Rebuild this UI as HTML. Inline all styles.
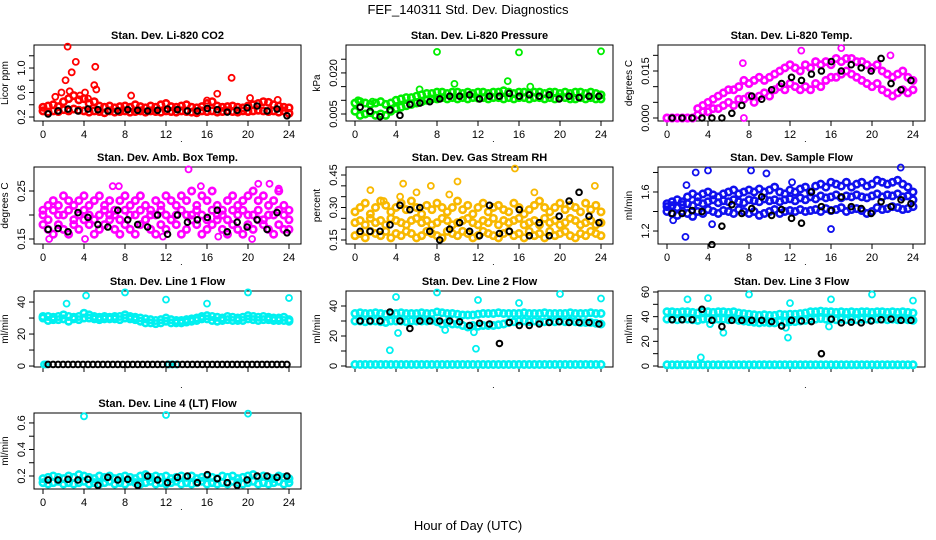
<!DOCTYPE html>
<html><head><meta charset="utf-8"><title>FEF_140311 Std. Dev. Diagnostics</title>
<style>
html,body{margin:0;padding:0;background:#fff;}
svg{display:block;font-family:"Liberation Sans",Arial,sans-serif;}
</style></head>
<body>
<svg id="chart" width="936" height="540" viewBox="0 0 936 540" xmlns="http://www.w3.org/2000/svg">
<text x="468" y="14" text-anchor="middle" font-size="13">FEF_140311  Std. Dev. Diagnostics</text>
<text x="468" y="530" text-anchor="middle" font-size="13">Hour of Day (UTC)</text>
</svg>
<script>
// ---- data ----
const xTicks = [0,4,8,12,16,20,24];

const co2Hi = [0.36,0.38,0.4,0.37,0.45,0.5,0.55,0.48,0.5,0.42,0.45,0.38,0.36,0.38,0.35,0.37,0.38,0.36,0.4,0.37,0.35,0.38,0.36,0.4,0.42,0.37,0.36,0.38,0.4,0.36,0.35,0.37,0.42,0.45,0.38,0.36,0.37,0.38,0.36,0.35,0.38,0.4,0.42,0.45,0.44,0.4,0.38,0.36,0.35];
const co2Lo = [0.3,0.28,0.3,0.29,0.32,0.3,0.33,0.31,0.3,0.28,0.3,0.29,0.27,0.3,0.28,0.29,0.3,0.28,0.29,0.3,0.28,0.3,0.29,0.28,0.3,0.29,0.28,0.3,0.29,0.28,0.27,0.3,0.29,0.3,0.28,0.29,0.3,0.29,0.28,0.3,0.29,0.3,0.31,0.3,0.29,0.3,0.28,0.3,0.26];
const co2OutX = [2.4,3.2,2.8,2.2,5.1,5.0,5.2,18.4,1.2,1.8,4.1,3.6,8.6,17.0,20.2,22.9,16.0,2.6,4.4];
const co2OutY = [1.35,1.1,0.93,0.8,1.02,0.72,0.65,0.84,0.53,0.6,0.6,0.55,0.55,0.58,0.51,0.48,0.47,0.62,0.5];
const co2Black = [0.25,0.3,0.33,0.3,0.33,0.32,0.3,0.3,0.32,0.31,0.3,0.31,0.33,0.32,0.3,0.3,0.34,0.32,0.28,0.31,0.35,0.38,0.3,0.33,0.22];

const presHi = [0.009,0.0095,0.009,0.0085,0.009,0.0095,0.0085,0.009,0.01,0.0105,0.011,0.011,0.0115,0.012,0.0125,0.0125,0.013,0.013,0.0125,0.013,0.013,0.0125,0.013,0.0125,0.013,0.013,0.0125,0.013,0.013,0.0135,0.013,0.0125,0.013,0.013,0.0125,0.013,0.013,0.0125,0.013,0.013,0.0125,0.013,0.0125,0.013,0.013,0.0125,0.013,0.0125,0.012];
const presLo = [0.006,0.0045,0.005,0.0055,0.0045,0.005,0.0045,0.006,0.007,0.0075,0.008,0.0085,0.009,0.0095,0.01,0.0105,0.0105,0.011,0.0105,0.011,0.0105,0.011,0.0105,0.011,0.0108,0.011,0.0105,0.011,0.011,0.0105,0.011,0.0105,0.011,0.011,0.0105,0.011,0.011,0.0105,0.011,0.0105,0.011,0.011,0.0105,0.0105,0.011,0.0105,0.011,0.0105,0.0105];
const presOutX = [8,16,24,9.7,14.9,0.3,6.3,17.1,1.7];
const presOutY = [0.0277,0.0275,0.0279,0.016,0.017,0.01,0.014,0.015,0.0095];
const presBlack = [0.0075,0.006,0.004,0.0065,0.0045,0.0085,0.009,0.0095,0.0105,0.0115,0.0115,0.012,0.0105,0.0115,0.0115,0.0125,0.0115,0.012,0.0115,0.012,0.0105,0.0115,0.011,0.0115,0.0115];

const tempHi = [0,0,0,0,0,0,0.003,0.004,0.005,0.006,0.007,0.008,0.009,0.009,0.01,0.012,0.011,0.012,0.013,0.012,0.013,0.014,0.015,0.016,0.017,0.016,0.015,0.017,0.016,0.018,0.017,0.018,0.017,0.019,0.018,0.019,0.019,0.018,0.018,0.017,0.016,0.017,0.015,0.014,0.013,0.014,0.015,0.013,0.012];
const tempLo = [0,0,0,0,0,0,0.001,0.002,0.002,0.003,0.003,0.004,0.005,0.004,0.006,0.006,0.007,0.005,0.007,0.008,0.007,0.009,0.01,0.009,0.011,0.01,0.009,0.01,0.009,0.011,0.01,0.012,0.013,0.013,0.014,0.015,0.014,0.013,0.012,0.011,0.01,0.011,0.009,0.008,0.007,0.008,0.009,0.008,0.009];
const tempOutX = [7.4,13.1,17.0,21.8,7.5];
const tempOutY = [0.0175,0.0215,0.0223,0.0200,0];
const tempBlack = [0,0,0,0,0,0,0.0015,0.004,0.007,0.006,0.009,0.011,0.013,0.012,0.014,0.015,0.018,0.015,0.017,0.016,0.015,0.019,0.011,0.009,0.012];

const ambHi = [0.21,0.22,0.23,0.22,0.24,0.23,0.22,0.23,0.24,0.22,0.23,0.24,0.22,0.23,0.21,0.23,0.24,0.22,0.23,0.24,0.22,0.21,0.23,0.22,0.24,0.23,0.22,0.24,0.23,0.25,0.22,0.24,0.23,0.25,0.22,0.21,0.23,0.24,0.22,0.23,0.24,0.25,0.23,0.24,0.22,0.23,0.25,0.22,0.21];
const ambMid = [0.2,0.19,0.21,0.2,0.2,0.21,0.19,0.2,0.21,0.2,0.19,0.2,0.21,0.2,0.2,0.19,0.21,0.2,0.2,0.21,0.19,0.2,0.2,0.21,0.2,0.19,0.2,0.21,0.2,0.2,0.21,0.2,0.19,0.21,0.2,0.2,0.19,0.21,0.2,0.21,0.2,0.2,0.21,0.19,0.2,0.2,0.21,0.2,0.19];
const ambLo = [0.18,0.17,0.16,0.18,0.17,0.16,0.18,0.17,0.19,0.18,0.16,0.17,0.18,0.19,0.17,0.16,0.18,0.17,0.16,0.18,0.19,0.17,0.16,0.18,0.17,0.19,0.18,0.16,0.17,0.19,0.18,0.16,0.17,0.18,0.19,0.17,0.16,0.18,0.17,0.16,0.18,0.17,0.19,0.18,0.17,0.16,0.18,0.17,0.17];
const ambOutX = [14.2,15.4,21.0,22.1,23.0,6.8,7.4,0.6,4.1,11.7,17.1,20.4];
const ambOutY = [0.295,0.26,0.265,0.265,0.255,0.26,0.26,0.15,0.15,0.155,0.155,0.15];
const ambBlack = [0.17,0.172,0.165,0.205,0.195,0.18,0.175,0.21,0.19,0.18,0.175,0.2,0.16,0.2,0.185,0.19,0.195,0.21,0.165,0.185,0.175,0.19,0.17,0.205,0.163];

const rhHi = [0.28,0.3,0.32,0.27,0.3,0.33,0.31,0.28,0.3,0.32,0.29,0.33,0.3,0.27,0.31,0.29,0.32,0.3,0.28,0.3,0.33,0.29,0.31,0.27,0.3,0.32,0.28,0.3,0.31,0.29,0.28,0.32,0.3,0.27,0.29,0.31,0.33,0.3,0.28,0.3,0.32,0.29,0.31,0.3,0.28,0.32,0.29,0.31,0.28];
const rhMid = [0.23,0.24,0.22,0.25,0.23,0.24,0.22,0.25,0.24,0.23,0.22,0.24,0.25,0.23,0.24,0.22,0.23,0.25,0.24,0.22,0.23,0.24,0.25,0.23,0.22,0.24,0.23,0.25,0.22,0.24,0.23,0.24,0.25,0.22,0.23,0.24,0.22,0.25,0.23,0.24,0.22,0.23,0.25,0.24,0.22,0.23,0.24,0.22,0.23];
const rhLo = [0.17,0.18,0.16,0.19,0.18,0.17,0.19,0.16,0.18,0.17,0.19,0.18,0.16,0.17,0.19,0.18,0.17,0.16,0.19,0.18,0.17,0.19,0.18,0.16,0.17,0.19,0.18,0.17,0.16,0.18,0.19,0.17,0.18,0.16,0.19,0.17,0.18,0.16,0.19,0.17,0.18,0.19,0.17,0.16,0.18,0.17,0.19,0.18,0.17];
const rhOutX = [1.5,4.7,7.4,10.0,15.6,23.4,2.8,6.0,9.2,4.4,17.5];
const rhOutY = [0.38,0.41,0.4,0.42,0.48,0.4,0.33,0.37,0.36,0.35,0.37];
const rhBlack = [0.19,0.19,0.19,0.22,0.31,0.29,0.3,0.19,0.15,0.2,0.23,0.19,0.17,0.31,0.18,0.19,0.29,0.17,0.23,0.17,0.26,0.33,0.37,0.26,0.23];

const flowHi = [1.48,1.5,1.52,1.5,1.55,1.58,1.55,1.58,1.6,1.57,1.55,1.58,1.6,1.62,1.58,1.6,1.62,1.6,1.63,1.6,1.62,1.65,1.6,1.58,1.62,1.6,1.63,1.65,1.6,1.66,1.68,1.65,1.7,1.68,1.66,1.7,1.65,1.68,1.7,1.66,1.68,1.72,1.7,1.68,1.7,1.72,1.68,1.65,1.6];
const flowMid = [1.45,1.46,1.44,1.47,1.48,1.46,1.5,1.48,1.5,1.52,1.49,1.51,1.5,1.52,1.5,1.49,1.52,1.51,1.5,1.53,1.51,1.52,1.5,1.52,1.53,1.51,1.54,1.52,1.55,1.53,1.56,1.54,1.55,1.57,1.54,1.56,1.55,1.57,1.55,1.54,1.56,1.58,1.55,1.57,1.56,1.58,1.55,1.56,1.52];
const flowLo = [1.4,1.38,1.36,1.4,1.38,1.35,1.4,1.38,1.42,1.4,1.38,1.41,1.4,1.38,1.42,1.4,1.38,1.4,1.36,1.38,1.4,1.42,1.38,1.4,1.41,1.4,1.42,1.4,1.41,1.42,1.4,1.43,1.41,1.42,1.44,1.4,1.42,1.43,1.41,1.38,1.4,1.44,1.42,1.43,1.45,1.44,1.42,1.43,1.45];
const flowOutX = [1.8,2.8,4.0,8.2,9.7,16.0,12.2,22.8,0.6,1.9,4.4];
const flowOutY = [1.14,1.8,1.82,1.82,1.79,1.22,1.7,1.85,1.31,1.67,1.27];
const flowBlack = [1.38,1.38,1.41,1.4,1.06,1.25,1.47,1.38,1.43,1.55,1.36,1.42,1.33,1.28,1.6,1.45,1.41,1.55,1.45,1.43,1.38,1.5,1.45,1.52,1.48];

const l1Hi = [31,31,30.5,31,32,31,30.5,31,33,32,31,30.5,31,30.5,31,31,32,31,30.5,30,29.5,29,28.5,29,30,29,28.5,28.5,29,29.5,30,31,31.5,31,30.5,30,31,30.5,30,30.5,31.5,31,30.5,31,30.5,30,30,30.5,29];
const l1Lo = [30,28.5,29,29,29.5,28,29.5,29,30,30,29.5,29,29.5,29.5,29.5,29,30,29.5,29,28,27,27,26.5,27,28,27,27,27,27.5,28,28.5,29.5,29.5,28.5,28,28.5,29,28.5,28.5,28.5,29.5,29,28.5,29,29,28.5,28.5,28.5,28];
const l1OutX = [2.3,4.2,8,12,16,20,24,0.1,0.3,12.3,12.6,13.0];
const l1OutY = [39,44,46,41.5,39,46,42.5,1,1,1,1,1];
const l1Black = [1,1,1,1,1,1,1,1,1,1,1,1,1,1,1,1,1,1,1,1,1,1,1,1,1,1,1,1,1,1,1,1,1,1,1,1,1,1,1,1,1,1,1,1,1,1,1,1,1];

const l2Hi = [35,35.5,35,35,35.5,35,34.5,35,35,35.5,35,35,35,35.5,35,35,36,35.5,35,35,34.5,34,34,34,34.5,35,35,35,35.5,35,35,35,35,35.5,35,35,35,35.5,35,35,35,35,35.5,35,35,35,35.5,35,35];
const l2Mid = [30,30,29.5,30,30,29.5,29,30,30,30,29.5,30,30,30,30,30.5,29.5,28,29,28,28,27,26,27,26.5,27,27,27,27.5,28,29,29.5,30,30,29.5,30,29.5,29.5,30,29.5,30,29.5,30,29.5,29,29,29,28.5,28];
const l2Zero = [1,1,1,1,1,1,1,1,1,1,1,1,1,1,1,1,1,1,1,1,1,1,1,1,1,1,1,1,1,1,1,1,1,1,1,1,1,1,1,1,1,1,1,1,1,1,1,1,1];
const l2OutX = [4,8,12,16,20,24,3.4,11.8,11.6,4.2,8.8];
const l2OutY = [46,49,44,42,48,45,10.5,11.5,22.5,22,24];
const l2Black = [30,30,30,36,30,25,30,30,30,30,29.5,27,28.5,28,15,29,27,27,28,29,29.5,29,29,29,28];

const l3Hi = [44,44,43.5,44,44,43.5,43,44,44,43.5,44,44,43.5,44,43,42.5,42,41.5,41,41.5,41,41,42,41.5,42,42,42.5,43,44,44,44.5,44,44,43.5,44,43.5,44,43.5,44,44,43.5,44,44,43.5,44,43.5,44,43.5,43];
const l3Mid = [38,38,37.5,38,38,37.5,37,38,38,37.5,38,38,37.5,38,37,36.5,36,35.5,35,35.5,35,35,36,35.5,36,36,36.5,37,38,38,38.5,38,38,37.5,38,37.5,38,37.5,38,38,37.5,38,38,37.5,38,37.5,38,37.5,37];
const l3Zero = [1,1,1,1,1,1,1,1,1,1,1,1,1,1,1,1,1,1,1,1,1,1,1,1,1,1,1,1,1,1,1,1,1,1,1,1,1,1,1,1,1,1,1,1,1,1,1,1,1];
const l3OutX = [2,4,8,12,16,20,24,3.3,11.8,11.6,4.2,15.8,5.5];
const l3OutY = [54,55,58,51,54,58,53,7,23,31,34,32,27];
const l3Black = [37.5,37.5,37.5,46,37,32,37,37,37,37,36,32.5,37,36.5,36,10,38,35,35.5,35,36.5,37.5,38,37,37];

const l4Hi = [0.18,0.19,0.2,0.19,0.18,0.2,0.19,0.21,0.2,0.19,0.18,0.2,0.19,0.2,0.18,0.19,0.2,0.19,0.18,0.2,0.21,0.19,0.2,0.19,0.2,0.18,0.19,0.2,0.19,0.2,0.18,0.19,0.2,0.19,0.18,0.2,0.19,0.2,0.18,0.19,0.2,0.21,0.19,0.2,0.19,0.18,0.2,0.19,0.18];
const l4Lo = [0.15,0.14,0.15,0.16,0.14,0.15,0.14,0.15,0.16,0.14,0.15,0.14,0.15,0.16,0.14,0.15,0.14,0.16,0.15,0.14,0.15,0.16,0.14,0.15,0.14,0.15,0.16,0.14,0.15,0.14,0.15,0.16,0.14,0.15,0.14,0.15,0.14,0.16,0.15,0.14,0.15,0.16,0.14,0.15,0.14,0.15,0.16,0.14,0.15];
const l4OutX = [4,12,20];
const l4OutY = [0.65,0.66,0.67];
const l4Black = [0.17,0.17,0.175,0.17,0.175,0.13,0.19,0.17,0.175,0.13,0.2,0.17,0.15,0.19,0.2,0.15,0.21,0.18,0.15,0.13,0.17,0.2,0.2,0.19,0.2];

// ---- drawing ----
const NS = "http://www.w3.org/2000/svg";
const svg = document.getElementById("chart");
const colX = [0,312,624];
const rowTop = [45,167,291,413];
const rowBot = [121,244,367,489];

function mk(tag, attrs, parent){
  const e = document.createElementNS(NS, tag);
  for (const k in attrs) e.setAttribute(k, attrs[k]);
  (parent||svg).appendChild(e);
  return e;
}

function makePanel(key, col, row, title, ylab, yMin, yMax, yTicks, yLabels, showXLabels){
  const cx = colX[col];
  const left = cx + 34, right = cx + 301, top = rowTop[row], bot = rowBot[row];
  const g = mk("g", {});
  
  
  const xs = h => cx + 43 + h * 10.25;
  const ys = v => bot - (v - yMin) / (yMax - yMin) * (bot - top);
  const frame = mk("rect", {x:left, y:top, width:right-left, height:bot-top, fill:"none", stroke:"#000", "stroke-width":1}, g);
  
  
  const t = mk("text", {x:(left+right)/2, y:top-6, "text-anchor":"middle", "font-size":11, "font-weight":"bold"}, g);
  t.textContent = title;
  
  
  const yl = mk("text", {x:0, y:0, "text-anchor":"middle", "font-size":10, transform:"translate("+(left-26)+","+((top+bot)/2)+") rotate(-90)"}, g);
  yl.textContent = ylab;
  
  
  const xa = mk("g", {}, g);
  
  
  xTicks.forEach(h => {
    mk("line", {x1:xs(h), x2:xs(h), y1:bot, y2:bot+5, stroke:"#000"}, xa);
    if (showXLabels){
      const tl = mk("text", {x:xs(h), y:bot+17, "text-anchor":"middle", "font-size":11}, xa);
      tl.textContent = h;
    }
  });
  const dot = mk("text", {x:xs(13.5), y:bot+21, "text-anchor":"middle", "font-size":9}, xa);
  dot.textContent = ".";
  const ya = mk("g", {}, g);
  
  
  yTicks.forEach(v => {
    mk("line", {x1:left-5, x2:left, y1:ys(v), y2:ys(v), stroke:"#000"}, ya);
  });
  yLabels.forEach(v => {
    const tl = mk("text", {x:0, y:0, "text-anchor":"middle", "font-size":11, transform:"translate("+(left-9)+","+ys(v)+") rotate(-90)"}, ya);
    tl.textContent = v;
  });
  const clipId = "clip-" + key;
  const cp = mk("clipPath", {id:clipId}, g);
  mk("rect", {x:left-4, y:top-4, width:right-left+8, height:bot-top+8}, cp);
  const marks = mk("g", {"clip-path":"url(#"+clipId+")"}, g);
  
  
  return {xs, ys, marks, key};
}

function series(p, vals, color, name, isBlack){
  const sg = mk("g", {}, p.marks);
  
  
  const n = vals.length;
  vals.forEach((v, i) => {
    const h = isBlack ? 0.5 + i * 23.3 / (n - 1) : i * 24 / (n - 1);
    const c = mk("circle", {cx:p.xs(h), cy:p.ys(v), r:isBlack?2.8:3.2, fill:"none", stroke:color, "stroke-width":isBlack?2:2.6}, sg);
    
    
  });
}
function outliers(p, xsArr, ysArr, color){
  const sg = mk("g", {}, p.marks);
  
  
  xsArr.forEach((h, i) => {
    const c = mk("circle", {cx:p.xs(h), cy:p.ys(ysArr[i]), r:3, fill:"none", stroke:color, "stroke-width":1.8}, sg);
    
    
  });
}

const RED="#ff0000", GRN="#00ee00", MAG="#ff00ff", ORG="#f8b800", BLU="#1010ee", CYN="#00f0f0", BLK="#000";

let p;
p = makePanel("co2",0,0,"Stan. Dev. Li-820 CO2","Licor ppm",0.135,1.376,[0.2,0.4,0.6,0.8,1.0,1.2],["0.2","0.6","1.0"],true);
series(p,co2Hi,RED,"co2-upper"); series(p,co2Lo,RED,"co2-lower"); outliers(p,co2OutX,co2OutY,RED); series(p,co2Black,BLK,"co2-hourly",true);

p = makePanel("pressure",1,0,"Stan. Dev. Li-820 Pressure","kPa",0.00244,0.0302,[0.005,0.010,0.015,0.020,0.025],["0.005","0.020"],true);
series(p,presHi,GRN,"pressure-upper"); series(p,presLo,GRN,"pressure-lower"); outliers(p,presOutX,presOutY,GRN); series(p,presBlack,BLK,"pressure-hourly",true);

p = makePanel("temp",2,0,"Stan. Dev. Li-820 Temp.","degrees C",-0.00096,0.0233,[0,0.005,0.010,0.015,0.020],["0.000","0.015"],true);
series(p,tempHi,MAG,"temp-upper"); series(p,tempLo,MAG,"temp-lower"); outliers(p,tempOutX,tempOutY,MAG); series(p,tempBlack,BLK,"temp-hourly",true);

p = makePanel("ambtemp",0,1,"Stan. Dev. Amb. Box Temp.","degrees C",0.1396,0.30,[0.15,0.20,0.25],["0.15","0.25"],true);
series(p,ambHi,MAG,"amb-upper"); series(p,ambMid,MAG,"amb-middle"); series(p,ambLo,MAG,"amb-lower"); outliers(p,ambOutX,ambOutY,MAG); series(p,ambBlack,BLK,"amb-hourly",true);

p = makePanel("rh",1,1,"Stan. Dev. Gas Stream RH","percent",0.1315,0.487,[0.15,0.20,0.25,0.30,0.35,0.40,0.45],["0.15","0.30","0.45"],true);
series(p,rhHi,ORG,"rh-upper"); series(p,rhMid,ORG,"rh-middle"); series(p,rhLo,ORG,"rh-lower"); outliers(p,rhOutX,rhOutY,ORG); series(p,rhBlack,BLK,"rh-hourly",true);

p = makePanel("sampleflow",2,1,"Stan. Dev. Sample Flow","ml/min",1.067,1.856,[1.2,1.4,1.6,1.8],["1.2","1.6"],true);
series(p,flowHi,BLU,"flow-upper"); series(p,flowMid,BLU,"flow-middle"); series(p,flowLo,BLU,"flow-lower"); outliers(p,flowOutX,flowOutY,BLU); series(p,flowBlack,BLK,"flow-hourly",true);

p = makePanel("line1",0,2,"Stan. Dev. Line 1 Flow","ml/min",-0.6,46.9,[0,10,20,30,40],["0","20","40"],false);
series(p,l1Hi,CYN,"line1-upper"); series(p,l1Lo,CYN,"line1-lower"); outliers(p,l1OutX,l1OutY,CYN); series(p,l1Black,BLK,"line1-hourly",true);

p = makePanel("line2",1,2,"Stan. Dev. Line 2 Flow","ml/min",-0.67,50,[0,10,20,30,40],["0","20","40"],false);
series(p,l2Hi,CYN,"line2-upper"); series(p,l2Mid,CYN,"line2-middle"); series(p,l2Zero,CYN,"line2-zero"); outliers(p,l2OutX,l2OutY,CYN); series(p,l2Black,BLK,"line2-hourly",true);

p = makePanel("line3",2,2,"Stan. Dev. Line 3 Flow","ml/min",-0.81,60.8,[0,10,20,30,40,50,60],["0","20","40","60"],false);
series(p,l3Hi,CYN,"line3-upper"); series(p,l3Mid,CYN,"line3-middle"); series(p,l3Zero,CYN,"line3-zero"); outliers(p,l3OutX,l3OutY,CYN); series(p,l3Black,BLK,"line3-hourly",true);

p = makePanel("line4",0,3,"Stan. Dev. Line 4 (LT) Flow","ml/min",0.102,0.675,[0.2,0.3,0.4,0.5,0.6],["0.2","0.4","0.6"],true);
series(p,l4Hi,CYN,"line4-upper"); series(p,l4Lo,CYN,"line4-lower"); outliers(p,l4OutX,l4OutY,CYN); series(p,l4Black,BLK,"line4-hourly",true);
</script>
</body></html>
